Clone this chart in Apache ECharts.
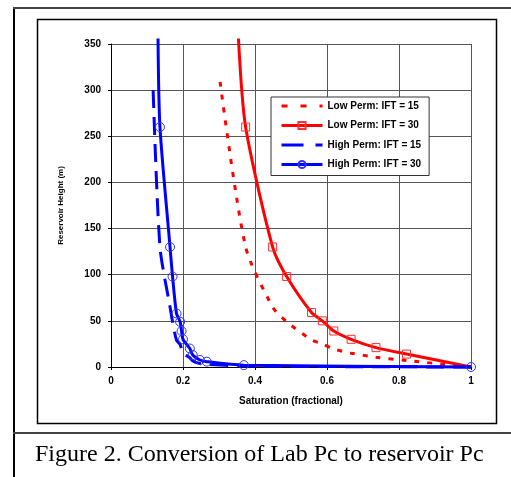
<!DOCTYPE html>
<html>
<head>
<meta charset="utf-8">
<script src="https://cdn.jsdelivr.net/npm/echarts@6/dist/echarts.min.js"></script>
<style>html,body{margin:0;padding:0;background:#fff}#c{width:511px;height:477px}</style>
</head>
<body>
<div id="c"></div>
<script>
// Saturation (fractional) vs reservoir height (m)
const seriesNames = ['Low Perm: IFT = 15', 'Low Perm: IFT = 30', 'High Perm: IFT = 15', 'High Perm: IFT = 30'];
const lowPerm15 = [[0.303,309],[0.374,130],[0.449,65],[0.488,49],[0.557,29.5],[0.587,25],[0.619,19.5],[0.667,15],[0.736,10.5],[0.821,7],[1,0]];
const lowPerm30 = [[0.354,356],[0.374,260],[0.449,130],[0.488,98],[0.557,59],[0.587,50],[0.619,39],[0.667,30],[0.736,21],[0.821,14],[1,0]];
const highPerm15 = [[0.117,300],[0.136,130],[0.164,65],[0.171,49],[0.182,29],[0.192,24.5],[0.196,19.5],[0.2,15],[0.219,10],[0.227,6.5],[0.247,3.8],[0.266,2.9],[0.369,1],[1,0]];
const highPerm30 = [[0.1306,356],[0.136,260],[0.164,130],[0.171,98],[0.182,58],[0.192,49],[0.196,39],[0.2,30],[0.219,20],[0.227,13],[0.247,7.6],[0.266,5.8],[0.369,2],[1,0]];
const xTicks = [0, 0.2, 0.4, 0.6, 0.8, 1];
const yTicks = [0, 50, 100, 150, 200, 250, 300, 350];
const xTitle = 'Saturation (fractional)';
const yTitle = 'Reservoir Height (m)';
const caption = 'Figure 2. Conversion of Lab Pc to reservoir Pc';

const chart = echarts.init(document.getElementById('c'), null, {renderer: 'canvas'});
const F = 'Liberation Sans, Arial, sans-serif';
function withHiddenEnds(arr, hideFirst, hideLast) {
  return arr.map((p, i) => {
    if ((hideFirst && i === 0) || (hideLast && i === arr.length - 1)) return {value: p, symbol: 'none'};
    return p;
  });
}
const option = {
  animation: false,
  grid: {left: 111, right: 40, top: 44, bottom: 110},
  xAxis: {
    type: 'value', min: xTicks[0], max: xTicks[xTicks.length - 1], interval: 0.2,
    name: xTitle, nameLocation: 'middle', nameGap: 29,
    nameTextStyle: {fontFamily: F, fontWeight: 'bold', fontSize: 10, color: '#000'},
    axisLine: {show: true, lineStyle: {color: '#000', width: 1}},
    axisTick: {show: true, length: 3, lineStyle: {color: '#000'}},
    axisLabel: {fontFamily: F, fontWeight: 'bold', fontSize: 10, color: '#000', margin: 9},
    splitLine: {show: true, lineStyle: {color: '#555', width: 1}}
  },
  yAxis: {
    type: 'value', min: yTicks[0], max: yTicks[yTicks.length - 1], interval: 50,
    name: yTitle, nameLocation: 'middle', nameGap: 46, nameRotate: 90,
    nameTextStyle: {fontFamily: F, fontWeight: 'bold', fontSize: 8, color: '#000'},
    axisLine: {show: true, lineStyle: {color: '#000', width: 1}},
    axisTick: {show: true, length: 3, lineStyle: {color: '#000'}},
    axisLabel: {fontFamily: F, fontWeight: 'bold', fontSize: 10, color: '#000', margin: 10},
    splitLine: {show: true, lineStyle: {color: '#555', width: 1}}
  },
  legend: {
    orient: 'vertical', left: 271, top: 97,
    padding: [3, 8, 5, 9], itemGap: 7.5, itemWidth: 41, itemHeight: 9,
    backgroundColor: '#fff', borderColor: '#333', borderWidth: 1,
    textStyle: {fontFamily: F, fontWeight: 'bold', fontSize: 10, color: '#000', lineHeight: 12},
    data: [
      {name: seriesNames[0], itemStyle: {opacity: 0}, lineStyle: {width: 3, type: [6, 13]}},
      {name: seriesNames[1], lineStyle: {width: 3}},
      {name: seriesNames[2], itemStyle: {opacity: 0}, lineStyle: {width: 3, type: [22, 12]}},
      {name: seriesNames[3], lineStyle: {width: 3}}
    ]
  },
  series: [
    {
      name: seriesNames[0], type: 'line', data: lowPerm15, clip: false, symbol: 'none', smooth: 0.25,
      lineStyle: {color: '#ff0000', width: 3, type: [5, 8]}, itemStyle: {color: '#ff0000'}, z: 2
    },
    {
      name: seriesNames[1], type: 'line', data: withHiddenEnds(lowPerm30, true, true), clip: false,
      symbol: 'rect', symbolSize: 8, showAllSymbol: true, smooth: 0.25,
      lineStyle: {color: '#ff0000', width: 3},
      itemStyle: {color: 'rgba(255,255,255,0)', borderColor: '#ff3030', borderWidth: 1}, z: 3
    },
    {
      name: seriesNames[2], type: 'line', data: highPerm15, clip: false, symbol: 'none', smooth: 0.25,
      lineStyle: {color: '#0000ff', width: 3, type: [18, 9]}, itemStyle: {color: '#0000ff'}, z: 4
    },
    {
      name: seriesNames[3], type: 'line', data: withHiddenEnds(highPerm30, true, false), clip: false,
      symbol: 'circle', symbolSize: 9, showAllSymbol: true, smooth: 0.25,
      lineStyle: {color: '#0000ff', width: 3},
      itemStyle: {color: 'rgba(255,255,255,0)', borderColor: '#3030ff', borderWidth: 1}, z: 5
    }
  ],
  graphic: [
    {type: 'rect', shape: {x: 13, y: 8, width: 2, height: 469}, style: {fill: '#000'}, silent: true},
    {type: 'rect', shape: {x: 13, y: 7, width: 498, height: 2}, style: {fill: '#444'}, silent: true},
    {type: 'rect', shape: {x: 13, y: 432, width: 498, height: 2}, style: {fill: '#444'}, silent: true},
    {type: 'rect', shape: {x: 37.5, y: 19.5, width: 459, height: 404}, style: {fill: 'none', stroke: '#000', lineWidth: 1.5}, silent: true, z: -1},
    {type: 'text', left: 35, top: 443, style: {text: caption, font: '24px "Liberation Serif", "Times New Roman", serif', fill: '#000'}, silent: true}
  ]
};
chart.setOption(option);
</script>
</body>
</html>
